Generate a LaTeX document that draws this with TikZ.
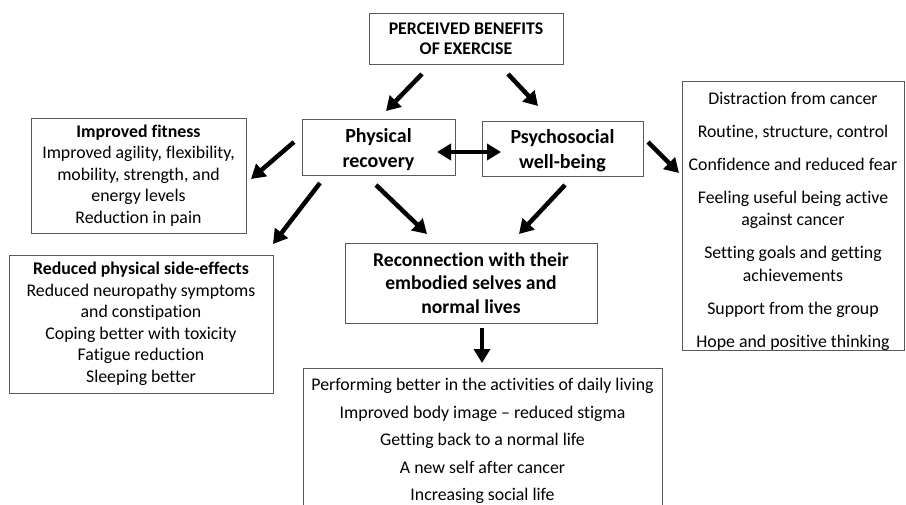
\documentclass[tikz,border=0pt]{standalone}
\usepackage{fontspec}
\setmainfont{Carlito}[Ligatures=NoCommon]
\usetikzlibrary{arrows.meta}
\tikzset{
	box/.style={draw=black!65, line width=0.9pt, fill=white, align=center, inner sep=0pt},
	bigarrow/.style={line width=4.5pt, -{Triangle[length=14pt,width=16pt]}},
	twoarrow/.style={line width=4.5pt, {Triangle[length=14pt,width=16pt]}-{Triangle[length=14pt,width=16pt]}},
}
\begin{document}
\begin{tikzpicture}[x=1pt,y=-1pt]
	\path[use as bounding box, clip] (0,0) rectangle (906,504);
	\fill[white] (0,0) rectangle (906,504);
	% boxes
	\node[box, minimum width=194pt, minimum height=51pt, font=\fontsize{17.8}{20}\selectfont\bfseries] (benefits) at (466,38.5) {PERCEIVED BENEFITS\\OF EXERCISE};
	\node[box, minimum width=153pt, minimum height=56pt, font=\fontsize{20}{25}\selectfont\bfseries] (physical) at (378.5,147) {\rule{0pt}{19pt}Physical\\recovery};
	\node[box, minimum width=161pt, minimum height=55pt, font=\fontsize{20}{25}\selectfont\bfseries] (psycho) at (562.5,148.5) {\rule{0pt}{19pt}Psychosocial\\well-being};
	\node[box, minimum width=215pt, minimum height=115pt, font=\fontsize{17.8}{21.5}\selectfont] (fitness) at (138.5,175.5)
		{\textbf{Improved fitness}\\Improved agility, flexibility,\\mobility, strength, and\\energy levels\\Reduction in pain};
	\node[box, minimum width=264pt, minimum height=138pt, font=\fontsize{17.8}{21.5}\selectfont] (sideeff) at (141,324)
		{\textbf{Reduced physical side-effects}\\Reduced neuropathy symptoms\\and constipation\\Coping better with toxicity\\Fatigue reduction\\Sleeping better};
	\node[box, minimum width=222pt, minimum height=264pt, font=\fontsize{17.8}{22.5}\selectfont] (wellbeing) at (793,216)
		{\rule{0pt}{23pt}Distraction from cancer\\[10.5pt]Routine, structure, control\\[10.5pt]Confidence and reduced fear\\[10.5pt]Feeling useful being active\\against cancer\\[10.5pt]Setting goals and getting\\achievements\\[10.5pt]Support from the group\\[10.5pt]Hope and positive thinking};
	\node[box, minimum width=252pt, minimum height=80pt, font=\fontsize{19.6}{23.5}\selectfont\bfseries] (reconnect) at (471,283)
		{Reconnection with their\\embodied selves and\\normal lives};
	\node[box, minimum width=359pt, minimum height=146pt, font=\fontsize{17.8}{27.5}\selectfont] (daily) at (482.5,441)
		{Performing better in the activities of daily living\\Improved body image -- reduced stigma\\Getting back to a normal life\\A new self after cancer\\Increasing social life};
	% arrow ends
	\coordinate (b1) at (422,74);  \coordinate (b2) at (386,111);
	\coordinate (b3) at (508,74);  \coordinate (b4) at (538,106);
	\coordinate (p1) at (294,142); \coordinate (p2) at (251,179);
	\coordinate (p3) at (320,183); \coordinate (p4) at (273,244);
	\coordinate (p5) at (376,185); \coordinate (p6) at (427,234);
	\coordinate (s1) at (648,142); \coordinate (s2) at (679,173);
	\coordinate (s3) at (565,185); \coordinate (s4) at (519,234);
	\coordinate (m1) at (437,152); \coordinate (m2) at (501,152);
	\coordinate (r1) at (482,328); \coordinate (r2) at (482,363);
	% arrows
	\draw[bigarrow] (b1) -- (b2);
	\draw[bigarrow] (b3) -- (b4);
	\draw[bigarrow] (p1) -- (p2);
	\draw[bigarrow] (p3) -- (p4);
	\draw[bigarrow] (p5) -- (p6);
	\draw[bigarrow] (s1) -- (s2);
	\draw[bigarrow] (s3) -- (s4);
	\draw[twoarrow] (m1) -- (m2);
	\draw[bigarrow] (r1) -- (r2);
\end{tikzpicture}
\end{document}
